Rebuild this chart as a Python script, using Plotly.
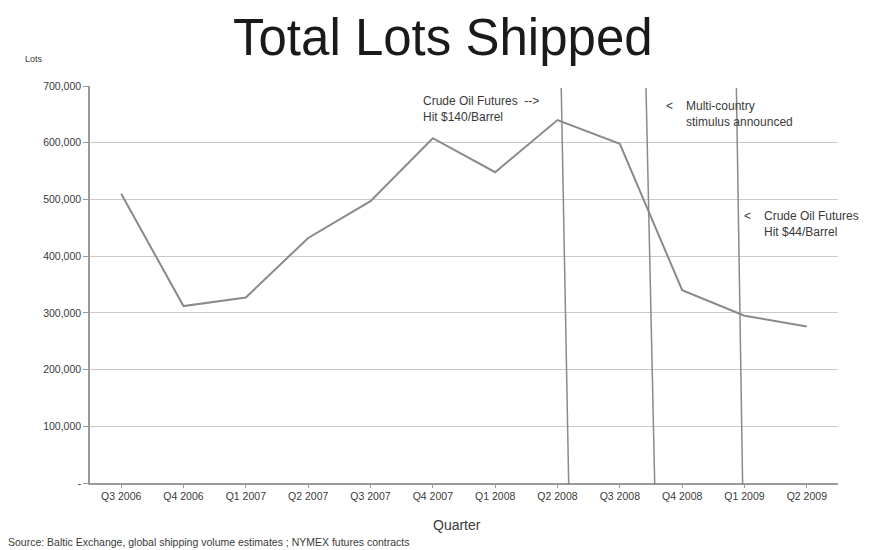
import plotly.graph_objects as go

# Quarterly shipment volume
quarters = ["Q3 2006", "Q4 2006", "Q1 2007", "Q2 2007", "Q3 2007", "Q4 2007",
            "Q1 2008", "Q2 2008", "Q3 2008", "Q4 2008", "Q1 2009", "Q2 2009"]
lots_shipped = [510000, 312000, 327000, 432000, 497000, 608000,
                548000, 640000, 598000, 340000, 295000, 276000]

# y-axis ticks
y_ticks = [0, 100000, 200000, 300000, 400000, 500000, 600000, 700000]
y_tick_labels = ["-", "100,000", "200,000", "300,000", "400,000", "500,000", "600,000", "700,000"]

# Market events marked on the timeline (position in quarter units, top and bottom of marker)
event_top = [7.06, 8.42, 9.87]
event_bottom = [7.18, 8.56, 9.97]
event_labels = [
    "Crude Oil Futures  --&gt;<br>Hit $140/Barrel",
    "Multi-country<br>stimulus announced",
    "Crude Oil Futures<br>Hit $44/Barrel",
]

font_family = "Liberation Sans, Arial, sans-serif"
grid_col = "#cacaca"
text_col = "#3a3a3a"
ann_font = dict(size=12, color=text_col, family=font_family)

fig = go.Figure()
fig.add_trace(go.Scatter(
    x=list(range(len(quarters))), y=lots_shipped, mode="lines",
    line=dict(color="#8a8a8a", width=2),
    hoverinfo="skip", showlegend=False,
))

for x0, x1 in zip(event_top, event_bottom):
    fig.add_shape(type="line", xref="x", yref="paper",
                  x0=x0, y0=0.995, x1=x1, y1=-0.005,
                  line=dict(color="#8a8a8a", width=1.5))

# event captions
fig.add_annotation(x=event_top[0], y=0.985, xref="x", yref="paper", xshift=-20,
                   text=event_labels[0], showarrow=False, xanchor="right", yanchor="top",
                   align="left", font=ann_font)
fig.add_annotation(x=event_top[1], y=0.972, xref="x", yref="paper", xshift=18,
                   text="&lt;", showarrow=False, xanchor="left", yanchor="top", font=ann_font)
fig.add_annotation(x=event_top[1], y=0.972, xref="x", yref="paper", xshift=38,
                   text=event_labels[1], showarrow=False, xanchor="left", yanchor="top",
                   align="left", font=ann_font)
fig.add_annotation(x=event_top[2], y=0.695, xref="x", yref="paper", xshift=6,
                   text="&lt;", showarrow=False, xanchor="left", yanchor="top", font=ann_font)
fig.add_annotation(x=event_top[2], y=0.695, xref="x", yref="paper", xshift=26,
                   text=event_labels[2], showarrow=False, xanchor="left", yanchor="top",
                   align="left", font=ann_font)

# title, axis captions and source line
fig.add_annotation(x=0.472, y=1.0, xref="paper", yref="paper", xanchor="center", yanchor="middle",
                   text="Total Lots Shipped", showarrow=False, yshift=49,
                   font=dict(size=51, color="#1a1a1a", family=font_family))
fig.add_annotation(x=-0.09, y=1.0, xref="paper", yref="paper", xanchor="left", yanchor="bottom",
                   text="Lots", showarrow=False, yshift=20,
                   font=dict(size=9, color=text_col, family=font_family))
fig.add_annotation(x=0.49, y=0, xref="paper", yref="paper", xanchor="center", yanchor="top",
                   text="Quarter", showarrow=False, yshift=-32,
                   font=dict(size=14, color=text_col, family=font_family))
fig.add_annotation(x=0, y=0, xref="paper", yref="paper", xanchor="left", yanchor="top",
                   xshift=-84, yshift=-51,
                   text="Source: Baltic Exchange, global shipping volume estimates ; NYMEX futures contracts",
                   showarrow=False, font=dict(size=10.5, color=text_col, family=font_family))

fig.update_layout(
    width=878, height=550,
    margin=dict(l=90, r=40, t=86, b=67),
    paper_bgcolor="white", plot_bgcolor="white",
    font=dict(family=font_family, color=text_col),
    xaxis=dict(
        range=[-0.5, len(quarters) - 0.5],
        tickmode="array", tickvals=list(range(len(quarters))), ticktext=quarters,
        tickfont=dict(size=10.5, color=text_col),
        showgrid=False, zeroline=False,
        showline=True, linecolor="#9a9a9a", linewidth=1.5,
        ticks="outside", ticklen=3, tickcolor="#9a9a9a",
        fixedrange=True,
    ),
    yaxis=dict(
        range=[0, 700000],
        tickmode="array", tickvals=y_ticks, ticktext=y_tick_labels,
        tickfont=dict(size=10.5, color=text_col),
        showgrid=True, gridcolor=grid_col, gridwidth=1.3,
        zeroline=False,
        showline=True, linecolor="#9a9a9a", linewidth=1.5,
        ticks="outside", ticklen=5, tickcolor="#9a9a9a",
        fixedrange=True,
    ),
)

fig.write_html("out.html")
